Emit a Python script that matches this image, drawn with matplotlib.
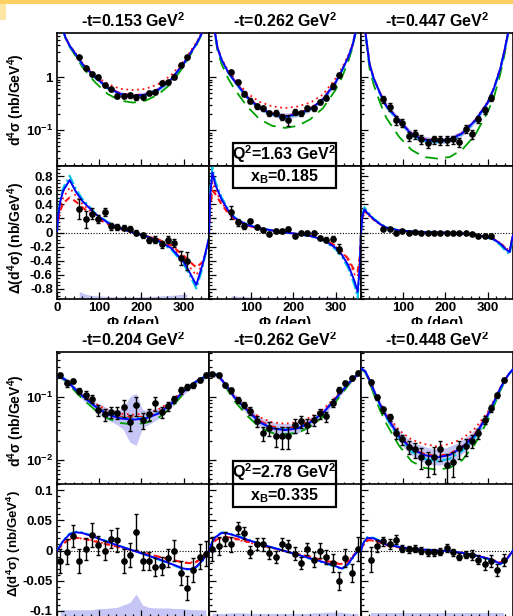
import numpy as np
import matplotlib
matplotlib.use('Agg')
import matplotlib.pyplot as plt
from matplotlib.ticker import MultipleLocator, LogLocator, NullFormatter, FuncFormatter
from matplotlib.patches import Rectangle
from matplotlib.lines import Line2D

plt.rcParams['font.family'] = ['Liberation Sans', 'DejaVu Sans']
plt.rcParams['font.weight'] = 'bold'
plt.rcParams['mathtext.fontset'] = 'custom'
plt.rcParams['mathtext.rm'] = 'Liberation Sans:bold'
plt.rcParams['mathtext.bf'] = 'Liberation Sans:bold'
plt.rcParams['mathtext.it'] = 'Liberation Sans:italic:bold'
plt.rcParams['mathtext.default'] = 'bf'

# ---------------- labels ----------------
titles_b1 = ['-t=0.153 GeV$^2$', '-t=0.262 GeV$^2$', '-t=0.447 GeV$^2$']
titles_b2 = ['-t=0.204 GeV$^2$', '-t=0.262 GeV$^2$', '-t=0.448 GeV$^2$']
box_b1 = ['Q$^2$=1.63 GeV$^2$', 'x$_B$=0.185']
box_b2 = ['Q$^2$=2.78 GeV$^2$', 'x$_B$=0.335']

# ---------------- model curve grids ----------------
GC = [0, 10, 20, 30, 45, 60, 90, 120, 150, 180, 210, 240, 270, 300, 315, 330, 340, 350, 360]
GD = [0, 3, 8, 15, 30, 45, 60, 90, 120, 150, 180, 210, 240, 270, 300, 315, 330, 345, 352, 357, 360]

# ---------------- data phi bins ----------------
PHI18 = [52.5, 67.5, 82.5, 97.5, 112.5, 127.5, 142.5, 157.5, 172.5, 187.5, 202.5,
         217.5, 232.5, 247.5, 262.5, 277.5, 292.5, 307.5]
PHI24 = [7.5, 22.5, 37.5, 52.5, 67.5, 82.5, 97.5, 112.5, 127.5, 142.5, 157.5, 172.5,
         187.5, 202.5, 217.5, 232.5, 247.5, 262.5, 277.5, 292.5, 307.5, 322.5, 337.5, 352.5]
PHI22 = [22.5, 37.5, 52.5, 67.5, 82.5, 97.5, 112.5, 127.5, 142.5, 157.5, 172.5,
         187.5, 202.5, 217.5, 232.5, 247.5, 262.5, 277.5, 292.5, 307.5, 322.5, 337.5]

# ===== Block 1 cross sections =====
b1p1_blue = [20, 10, 5.6, 3.9, 2.65, 1.75, 1.0, 0.63, 0.48, 0.44, 0.47, 0.58, 0.9, 1.8, 2.75, 4.2, 6.0, 9.5, 20]
b1p1_cyan = [20, 10, 5.5, 3.85, 2.6, 1.72, 0.98, 0.61, 0.47, 0.43, 0.46, 0.57, 0.88, 1.78, 2.72, 4.15, 6.0, 9.5, 20]
b1p1_rdot = [20, 10, 5.7, 4.0, 2.75, 1.85, 1.08, 0.74, 0.6, 0.57, 0.6, 0.74, 1.08, 2.0, 3.0, 4.5, 6.3, 9.8, 20]
b1p1_rdash = [20, 10, 5.6, 3.95, 2.7, 1.78, 1.02, 0.64, 0.49, 0.45, 0.48, 0.59, 0.92, 1.83, 2.8, 4.25, 6.1, 9.6, 20]
b1p1_green = [20, 10, 5.4, 3.7, 2.45, 1.55, 0.8, 0.48, 0.36, 0.33, 0.36, 0.47, 0.75, 1.6, 2.55, 4.0, 5.8, 9.3, 20]
b1p1_y = [2.35, 1.46, 1.14, 1.01, 0.70, 0.586, 0.438, 0.444, 0.457, 0.414, 0.425, 0.51, 0.53, 0.79, 0.80, 1.01, 1.68, 2.35]
b1p1_e = [0.2, 0.12, 0.09, 0.08, 0.06, 0.05, 0.04, 0.04, 0.045, 0.04, 0.04, 0.045, 0.045, 0.07, 0.06, 0.08, 0.14, 0.2]
b1p1_band = [0.1, 0.1, 0.1, 0.1, 0.1, 0.1, 0.1, 0.1, 0.1, 0.1, 0.1, 0.1, 0.1, 0.1, 0.1, 0.1, 0.1, 0.1]

b1p2_blue = [30, 11, 3.6, 2.1, 1.25, 0.85, 0.42, 0.26, 0.2, 0.18, 0.2, 0.25, 0.38, 0.8, 1.35, 2.4, 4.0, 9.0, 30]
b1p2_cyan = [30, 11, 3.5, 2.05, 1.22, 0.83, 0.41, 0.255, 0.195, 0.175, 0.195, 0.245, 0.37, 0.78, 1.32, 2.35, 3.9, 8.8, 30]
b1p2_rdot = [30, 11, 3.7, 2.2, 1.35, 0.95, 0.5, 0.34, 0.28, 0.26, 0.28, 0.33, 0.47, 0.95, 1.5, 2.6, 4.2, 9.2, 30]
b1p2_rdash = [30, 11, 3.6, 2.1, 1.27, 0.86, 0.43, 0.265, 0.205, 0.185, 0.205, 0.255, 0.39, 0.82, 1.37, 2.42, 4.0, 9.0, 30]
b1p2_green = [30, 10.5, 3.2, 1.75, 0.95, 0.6, 0.28, 0.16, 0.12, 0.11, 0.12, 0.16, 0.26, 0.58, 1.0, 2.0, 3.6, 8.5, 30]
b1p2_y = [1.26, 0.815, 0.49, 0.36, 0.28, 0.256, 0.207, 0.212, 0.18, 0.154, 0.22, 0.207, 0.256, 0.256, 0.34, 0.41, 0.676, 1.09]
b1p2_e = [0.12, 0.08, 0.05, 0.04, 0.035, 0.03, 0.025, 0.025, 0.025, 0.035, 0.03, 0.025, 0.03, 0.03, 0.035, 0.04, 0.07, 0.1]
b1p2_band = [0.12, 0.12, 0.12, 0.12, 0.12, 0.12, 0.12, 0.12, 0.14, 0.14, 0.12, 0.12, 0.12, 0.12, 0.12, 0.12, 0.12, 0.12]

b1p3_blue = [40, 7.5, 1.8, 0.95, 0.5, 0.28, 0.155, 0.082, 0.066, 0.062, 0.066, 0.087, 0.15, 0.33, 0.62, 1.45, 3.2, 8.0, 40]
b1p3_cyan = [40, 7.3, 1.75, 0.92, 0.48, 0.27, 0.15, 0.079, 0.063, 0.059, 0.063, 0.083, 0.145, 0.32, 0.6, 1.4, 3.1, 7.8, 40]
b1p3_rdot = [40, 7.6, 1.85, 0.97, 0.51, 0.29, 0.16, 0.085, 0.068, 0.064, 0.068, 0.089, 0.155, 0.34, 0.64, 1.48, 3.3, 8.1, 40]
b1p3_rdash = [40, 7.5, 1.8, 0.95, 0.5, 0.28, 0.155, 0.083, 0.066, 0.062, 0.066, 0.087, 0.15, 0.33, 0.62, 1.45, 3.2, 8.0, 40]
b1p3_green = [40, 6.8, 1.5, 0.72, 0.33, 0.17, 0.075, 0.042, 0.031, 0.029, 0.031, 0.043, 0.08, 0.22, 0.42, 1.15, 2.7, 7.5, 40]
b1p3_y = [0.385, 0.275, 0.154, 0.137, 0.077, 0.084, 0.067, 0.0576, 0.067, 0.065, 0.065, 0.067, 0.06, 0.107, 0.084, 0.16, 0.24, 0.407]
b1p3_e = [0.06, 0.05, 0.03, 0.025, 0.015, 0.015, 0.013, 0.011, 0.012, 0.012, 0.012, 0.012, 0.011, 0.02, 0.016, 0.025, 0.035, 0.06]
b1p3_band = [0.15, 0.15, 0.15, 0.15, 0.15, 0.15, 0.15, 0.15, 0.15, 0.15, 0.15, 0.15, 0.15, 0.15, 0.15, 0.15, 0.15, 0.15]

# ===== Block 1 differences =====
b1d1_blue = [0.02, 0.25, 0.45, 0.6, 0.75, 0.58, 0.45, 0.27, 0.14, 0.06, 0.0, -0.05, -0.12, -0.22, -0.42, -0.58, -0.75, -0.45, -0.28, -0.15, -0.08]
b1d1_cyan = [0.02, 0.27, 0.48, 0.64, 0.81, 0.62, 0.48, 0.28, 0.15, 0.065, 0.0, -0.055, -0.13, -0.24, -0.45, -0.62, -0.8, -0.5, -0.3, -0.17, -0.08]
b1d1_rdot = [0.02, 0.2, 0.38, 0.5, 0.64, 0.52, 0.41, 0.25, 0.13, 0.06, 0.0, -0.05, -0.1, -0.2, -0.38, -0.5, -0.61, -0.45, -0.3, -0.17, -0.08]
b1d1_rdash = [0.02, 0.17, 0.32, 0.42, 0.5, 0.44, 0.36, 0.22, 0.12, 0.05, 0.0, -0.05, -0.1, -0.18, -0.33, -0.42, -0.5, -0.42, -0.3, -0.17, -0.08]
b1d1_y = [0.34, 0.19, 0.27, 0.19, 0.29, 0.09, 0.08, 0.066, 0.057, -0.006, -0.04, -0.11, -0.10, -0.17, -0.10, -0.15, -0.37, -0.41]
b1d1_e = [0.14, 0.12, 0.08, 0.06, 0.06, 0.05, 0.04, 0.035, 0.035, 0.035, 0.035, 0.04, 0.045, 0.05, 0.045, 0.06, 0.1, 0.13]
b1d1_sys = [0.11, 0.07, 0.05, 0.045, 0.04, 0.035, 0.03, 0.03, 0.03, 0.03, 0.035, 0.035, 0.04, 0.045, 0.05, 0.055, 0.065, 0.075]

b1d2_blue = [0.0, 0.55, 0.86, 0.68, 0.47, 0.32, 0.21, 0.11, 0.06, 0.03, 0.0, -0.02, -0.05, -0.1, -0.22, -0.32, -0.47, -0.7, -0.85, -0.5, 0.0]
b1d2_cyan = [0.0, 0.6, 0.93, 0.73, 0.5, 0.34, 0.22, 0.115, 0.062, 0.031, 0.0, -0.022, -0.055, -0.11, -0.24, -0.35, -0.51, -0.76, -0.93, -0.55, 0.0]
b1d2_rdot = [0.0, 0.45, 0.72, 0.6, 0.43, 0.3, 0.2, 0.1, 0.055, 0.028, 0.0, -0.02, -0.05, -0.1, -0.2, -0.28, -0.4, -0.6, -0.63, -0.4, 0.0]
b1d2_rdash = [0.0, 0.38, 0.6, 0.55, 0.4, 0.28, 0.19, 0.1, 0.055, 0.028, 0.0, -0.02, -0.05, -0.09, -0.19, -0.27, -0.38, -0.55, -0.56, -0.35, 0.0]
b1d2_y = [0.29, 0.15, 0.09, 0.16, 0.08, 0.033, -0.015, 0.023, 0.02, 0.057, -0.043, 0.0, 0.0, 0.0, -0.077, -0.1, -0.09, -0.23]
b1d2_e = [0.09, 0.05, 0.04, 0.03, 0.03, 0.025, 0.025, 0.025, 0.025, 0.025, 0.025, 0.025, 0.025, 0.025, 0.03, 0.03, 0.035, 0.06]
b1d2_sys = [0.05, 0.04, 0.035, 0.03, 0.03, 0.03, 0.025, 0.025, 0.025, 0.025, 0.025, 0.025, 0.025, 0.025, 0.03, 0.03, 0.03, 0.035]

b1d3_blue = [0.0, 0.22, 0.33, 0.28, 0.19, 0.12, 0.07, 0.03, 0.015, 0.005, 0.0, -0.005, -0.015, -0.03, -0.07, -0.1, -0.16, -0.25, -0.28, -0.12, -0.04]
b1d3_cyan = [0.0, 0.24, 0.36, 0.3, 0.2, 0.13, 0.075, 0.032, 0.016, 0.005, 0.0, -0.005, -0.016, -0.033, -0.075, -0.11, -0.18, -0.28, -0.31, -0.14, -0.04]
b1d3_rdot = [0.0, 0.2, 0.3, 0.26, 0.18, 0.115, 0.068, 0.03, 0.015, 0.005, 0.0, -0.005, -0.015, -0.03, -0.068, -0.095, -0.15, -0.23, -0.26, -0.11, -0.04]
b1d3_rdash = [0.0, 0.21, 0.31, 0.27, 0.185, 0.118, 0.069, 0.03, 0.015, 0.005, 0.0, -0.005, -0.015, -0.03, -0.069, -0.097, -0.155, -0.24, -0.27, -0.115, -0.04]
b1d3_y = [0.057, 0.057, 0.0, 0.02, 0.0, 0.01, -0.005, -0.005, -0.005, -0.005, -0.005, -0.005, -0.014, 0.0, -0.02, -0.05, -0.057, -0.05]
b1d3_e = [0.015, 0.012, 0.01, 0.01, 0.01, 0.01, 0.01, 0.01, 0.01, 0.01, 0.01, 0.01, 0.01, 0.01, 0.01, 0.012, 0.012, 0.015]
b1d3_sys = [0.015, 0.015, 0.015, 0.015, 0.015, 0.015, 0.015, 0.015, 0.015, 0.015, 0.015, 0.015, 0.015, 0.015, 0.015, 0.015, 0.015, 0.015]

# ===== Block 2 cross sections =====
b2p1_blue = [0.215, 0.21, 0.19, 0.165, 0.13, 0.105, 0.072, 0.053, 0.046, 0.044, 0.046, 0.055, 0.078, 0.125, 0.15, 0.18, 0.197, 0.21, 0.215]
b2p1_cyan = [0.218, 0.213, 0.193, 0.167, 0.131, 0.105, 0.073, 0.054, 0.047, 0.046, 0.047, 0.056, 0.079, 0.127, 0.152, 0.182, 0.2, 0.213, 0.218]
b2p1_rdot = [0.215, 0.21, 0.19, 0.166, 0.133, 0.11, 0.08, 0.062, 0.055, 0.053, 0.055, 0.064, 0.086, 0.132, 0.155, 0.182, 0.198, 0.21, 0.215]
b2p1_rdash = [0.215, 0.21, 0.19, 0.165, 0.131, 0.106, 0.074, 0.055, 0.049, 0.048, 0.049, 0.057, 0.08, 0.127, 0.151, 0.18, 0.197, 0.21, 0.215]
b2p1_green = [0.21, 0.205, 0.183, 0.157, 0.12, 0.095, 0.063, 0.046, 0.039, 0.037, 0.039, 0.047, 0.068, 0.115, 0.142, 0.173, 0.192, 0.205, 0.21]
b2p1_y = [0.227, 0.167, 0.182, 0.126, 0.109, 0.095, 0.063, 0.054, 0.059, 0.057, 0.069, 0.041, 0.075, 0.0435, 0.054, 0.08, 0.059, 0.073, 0.094, 0.13, 0.148, 0.157, 0.19, 0.23]
b2p1_e = [0.015, 0.02, 0.015, 0.015, 0.015, 0.015, 0.012, 0.012, 0.012, 0.012, 0.02, 0.012, 0.025, 0.012, 0.012, 0.02, 0.012, 0.012, 0.012, 0.015, 0.015, 0.015, 0.015, 0.015]
b2p1_band = [0.08, 0.1, 0.1, 0.12, 0.15, 0.15, 0.2, 0.25, 0.25, 0.3, 0.5, 1.3, 1.6, 0.4, 0.3, 0.25, 0.2, 0.18, 0.15, 0.12, 0.12, 0.1, 0.1, 0.08]

b2p2_blue = [0.22, 0.24, 0.225, 0.19, 0.14, 0.1, 0.063, 0.04, 0.032, 0.030, 0.032, 0.04, 0.056, 0.095, 0.125, 0.165, 0.195, 0.225, 0.245]
b2p2_cyan = [0.225, 0.245, 0.228, 0.192, 0.14, 0.1, 0.062, 0.04, 0.032, 0.031, 0.032, 0.04, 0.056, 0.096, 0.127, 0.168, 0.198, 0.228, 0.25]
b2p2_rdot = [0.22, 0.24, 0.225, 0.192, 0.145, 0.107, 0.07, 0.048, 0.04, 0.038, 0.04, 0.048, 0.064, 0.102, 0.13, 0.168, 0.197, 0.226, 0.245]
b2p2_rdash = [0.22, 0.24, 0.225, 0.19, 0.141, 0.101, 0.064, 0.042, 0.034, 0.032, 0.034, 0.042, 0.058, 0.097, 0.127, 0.166, 0.196, 0.225, 0.245]
b2p2_green = [0.215, 0.235, 0.218, 0.18, 0.128, 0.088, 0.051, 0.033, 0.027, 0.026, 0.027, 0.034, 0.049, 0.085, 0.115, 0.157, 0.19, 0.22, 0.24]
b2p2_y = [0.235, 0.227, 0.16, 0.131, 0.09, 0.075, 0.061, 0.042, 0.027, 0.032, 0.0241, 0.0241, 0.0241, 0.036, 0.042, 0.036, 0.0435, 0.0555, 0.05, 0.082, 0.131, 0.17, 0.205, 0.247]
b2p2_e = [0.02, 0.015, 0.012, 0.012, 0.01, 0.008, 0.008, 0.008, 0.007, 0.008, 0.008, 0.009, 0.009, 0.009, 0.009, 0.009, 0.009, 0.01, 0.009, 0.012, 0.014, 0.015, 0.015, 0.015]
b2p2_band = [0.08, 0.1, 0.1, 0.12, 0.15, 0.15, 0.18, 0.2, 0.22, 0.25, 0.25, 0.25, 0.25, 0.22, 0.2, 0.2, 0.18, 0.15, 0.15, 0.12, 0.1, 0.1, 0.08, 0.08]

b2p3_blue = [0.29, 0.26, 0.19, 0.13, 0.077, 0.05, 0.024, 0.015, 0.012, 0.011, 0.012, 0.016, 0.025, 0.052, 0.085, 0.14, 0.185, 0.235, 0.28]
b2p3_cyan = [0.29, 0.26, 0.19, 0.128, 0.074, 0.047, 0.022, 0.0135, 0.0105, 0.0095, 0.0105, 0.014, 0.023, 0.049, 0.082, 0.137, 0.183, 0.233, 0.28]
b2p3_rdot = [0.29, 0.26, 0.19, 0.132, 0.08, 0.055, 0.03, 0.021, 0.018, 0.0165, 0.018, 0.022, 0.032, 0.058, 0.09, 0.143, 0.187, 0.236, 0.28]
b2p3_rdash = [0.29, 0.26, 0.19, 0.13, 0.077, 0.05, 0.0245, 0.0155, 0.0125, 0.0115, 0.0125, 0.0165, 0.026, 0.053, 0.086, 0.14, 0.185, 0.235, 0.28]
b2p3_green = [0.28, 0.25, 0.175, 0.113, 0.062, 0.038, 0.017, 0.0095, 0.0075, 0.007, 0.0075, 0.01, 0.018, 0.042, 0.073, 0.128, 0.177, 0.23, 0.275]
b2p3_y = [0.173, 0.1, 0.064, 0.048, 0.0266, 0.0214, 0.0163, 0.0148, 0.0113, 0.0094, 0.011, 0.0148, 0.0083, 0.0094, 0.0154, 0.0167, 0.0203, 0.0266, 0.0435, 0.0667, 0.109, 0.189]
b2p3_e = [0.015, 0.01, 0.007, 0.006, 0.005, 0.004, 0.004, 0.004, 0.004, 0.004, 0.005, 0.005, 0.004, 0.004, 0.005, 0.005, 0.005, 0.005, 0.006, 0.008, 0.01, 0.015]
b2p3_band = [0.1, 0.12, 0.15, 0.18, 0.2, 0.25, 0.3, 0.3, 0.35, 0.35, 0.35, 0.35, 0.35, 0.35, 0.3, 0.3, 0.25, 0.2, 0.18, 0.15, 0.12, 0.1]

# ===== Block 2 differences =====
b2d1_blue = [0.0, 0.003, 0.008, 0.016, 0.027, 0.03, 0.029, 0.022, 0.014, 0.007, 0.0, -0.007, -0.014, -0.022, -0.03, -0.031, -0.027, -0.016, -0.009, -0.004, 0.0]
b2d1_cyan = [0.0, 0.003, 0.009, 0.017, 0.028, 0.031, 0.03, 0.023, 0.015, 0.007, 0.0, -0.007, -0.015, -0.023, -0.031, -0.032, -0.028, -0.017, -0.01, -0.004, 0.0]
b2d1_rdot = [0.0, 0.002, 0.006, 0.011, 0.018, 0.02, 0.02, 0.016, 0.01, 0.005, 0.0, -0.005, -0.01, -0.016, -0.02, -0.02, -0.018, -0.011, -0.006, -0.003, 0.0]
b2d1_rdash = [0.0, 0.002, 0.006, 0.012, 0.019, 0.021, 0.02, 0.015, 0.01, 0.005, 0.0, -0.005, -0.01, -0.015, -0.02, -0.021, -0.019, -0.012, -0.006, -0.003, 0.0]
b2d1_y = [-0.0167, -0.0017, 0.024, -0.0167, 0.003, 0.026, 0.0083, 0.0, 0.0195, 0.018, -0.018, -0.008, 0.031, -0.0167, -0.0167, -0.027, -0.025, -0.0127, 0.0, -0.037, -0.062, -0.032, -0.01, -0.005]
b2d1_e = [0.02, 0.02, 0.018, 0.02, 0.018, 0.02, 0.015, 0.015, 0.015, 0.02, 0.02, 0.02, 0.03, 0.015, 0.015, 0.015, 0.015, 0.015, 0.018, 0.02, 0.02, 0.02, 0.02, 0.02]
b2d1_sys = [0.012, 0.012, 0.012, 0.012, 0.012, 0.012, 0.014, 0.014, 0.015, 0.016, 0.02, 0.024, 0.038, 0.02, 0.016, 0.015, 0.015, 0.015, 0.014, 0.014, 0.013, 0.012, 0.012, 0.012]

b2d2_blue = [0.0, 0.006, 0.014, 0.022, 0.029, 0.028, 0.025, 0.018, 0.011, 0.005, -0.001, -0.007, -0.013, -0.019, -0.026, -0.03, -0.022, -0.007, -0.001, 0.0, 0.0]
b2d2_cyan = [0.0, 0.006, 0.015, 0.023, 0.03, 0.029, 0.026, 0.019, 0.011, 0.005, -0.001, -0.007, -0.014, -0.02, -0.027, -0.031, -0.023, -0.008, -0.001, 0.0, 0.0]
b2d2_rdot = [0.0, 0.004, 0.01, 0.016, 0.021, 0.021, 0.019, 0.014, 0.009, 0.004, -0.001, -0.006, -0.01, -0.015, -0.02, -0.022, -0.017, -0.006, -0.001, 0.0, 0.0]
b2d2_rdash = [0.0, 0.004, 0.011, 0.017, 0.022, 0.022, 0.02, 0.015, 0.009, 0.004, -0.001, -0.006, -0.011, -0.016, -0.021, -0.023, -0.018, -0.006, -0.001, 0.0, 0.0]
b2d2_y = [0.003, 0.007, 0.019, 0.01, 0.037, 0.029, -0.003, 0.011, 0.01, -0.004, -0.01, 0.011, 0.008, -0.005, -0.021, 0.003, -0.015, 0.0, -0.011, -0.02, -0.05, -0.012, -0.037, 0.002]
b2d2_e = [0.02, 0.015, 0.012, 0.012, 0.01, 0.01, 0.01, 0.01, 0.01, 0.01, 0.01, 0.01, 0.01, 0.01, 0.01, 0.01, 0.012, 0.012, 0.012, 0.015, 0.015, 0.015, 0.015, 0.02]
b2d2_sys = [0.006, 0.006, 0.006, 0.007, 0.007, 0.007, 0.006, 0.006, 0.006, 0.006, 0.006, 0.006, 0.006, 0.006, 0.006, 0.006, 0.007, 0.007, 0.008, 0.008, 0.008, 0.007, 0.006, 0.006]

b2d3_blue = [0.0, 0.008, 0.015, 0.021, 0.02, 0.015, 0.01, 0.006, 0.003, 0.0015, 0.0, -0.001, -0.004, -0.008, -0.013, -0.017, -0.022, -0.015, -0.008, -0.003, 0.0]
b2d3_cyan = [0.0, 0.008, 0.016, 0.022, 0.021, 0.016, 0.011, 0.006, 0.003, 0.0015, 0.0, -0.001, -0.004, -0.008, -0.014, -0.018, -0.023, -0.016, -0.008, -0.003, 0.0]
b2d3_rdot = [0.0, 0.006, 0.011, 0.016, 0.016, 0.013, 0.009, 0.005, 0.003, 0.001, 0.0, -0.001, -0.004, -0.008, -0.013, -0.016, -0.02, -0.014, -0.007, -0.003, 0.0]
b2d3_rdash = [0.0, 0.006, 0.012, 0.017, 0.017, 0.013, 0.009, 0.005, 0.003, 0.001, 0.0, -0.001, -0.004, -0.008, -0.013, -0.017, -0.02, -0.014, -0.007, -0.003, 0.0]
b2d3_y = [-0.015, 0.007, 0.015, 0.011, 0.018, 0.003, 0.002, 0.003, 0.0, -0.003, -0.003, -0.002, 0.004, -0.003, -0.01, -0.007, -0.007, -0.015, -0.023, -0.018, -0.033, -0.015]
b2d3_e = [0.02, 0.01, 0.008, 0.008, 0.008, 0.006, 0.006, 0.006, 0.006, 0.006, 0.006, 0.006, 0.006, 0.006, 0.006, 0.006, 0.008, 0.008, 0.01, 0.01, 0.01, 0.01]
b2d3_sys = [0.006, 0.006, 0.006, 0.006, 0.006, 0.006, 0.006, 0.006, 0.006, 0.006, 0.006, 0.006, 0.006, 0.006, 0.006, 0.006, 0.006, 0.006, 0.006, 0.006, 0.006, 0.006]

# ---------------- styling ----------------
BLUE = '#0000ff'
CYAN = '#00c4e4'
RED = '#ff1010'
GREEN = '#00a000'
BAND = '#c6c6f6'

W, H = 513, 616
fig = plt.figure(figsize=(W / 100, H / 100), dpi=100)
fig.patch.set_facecolor('white')


def add_ax(x0, y0, w, h):
    return fig.add_axes([x0 / W, 1 - (y0 + h) / H, w / W, h / H])


COLX = [57, 209, 361]
COLW = 152
ROWH = 133


def style(ax, col, xlabels=False):
    ax.set_xlim(0, 360)
    ax.xaxis.set_major_locator(MultipleLocator(100))
    ax.xaxis.set_minor_locator(MultipleLocator(20))
    ax.tick_params(which='both', direction='in', top=False, right=False, width=0.9,
                   labelsize=9.5, pad=3)
    ax.tick_params(axis='x', pad=2)
    ax.tick_params(which='major', length=5)
    ax.tick_params(which='minor', length=2.5)
    for s in ax.spines.values():
        s.set_linewidth(1.2)
    if xlabels:
        if col == 0:
            ax.xaxis.set_major_formatter(FuncFormatter(lambda v, p: '%d' % v))
        else:
            ax.xaxis.set_major_formatter(FuncFormatter(lambda v, p: '' if v == 0 else '%d' % v))
    else:
        ax.tick_params(labelbottom=False)
    if col > 0:
        ax.tick_params(labelleft=False)
    for lab in ax.get_xticklabels() + ax.get_yticklabels():
        lab.set_fontweight('bold')


def logfmt(v, p):
    e = int(round(np.log10(v)))
    if e == 0:
        return '1'
    return '10$^{%d}$' % e


def draw_cs(ax, col, blue, cyan, rdot, rdash, green, phid, yd, ed, bandf, ylim):
    ax.set_yscale('log')
    ax.set_ylim(*ylim)
    b = 10 ** np.interp(phid, GC, np.log10(blue))
    f = np.array(bandf)
    ax.fill_between(phid, b / (1 + f), b * (1 + f), color=BAND, lw=0, zorder=1)
    ax.plot(GC, green, color=GREEN, lw=1.3, dashes=(7, 4), zorder=2)
    ax.plot(GC, rdot, color=RED, lw=1.3, dashes=(1, 2), zorder=3)
    ax.plot(GC, rdash, color=RED, lw=1.5, dashes=(3, 2), zorder=3)
    ax.plot(GC, cyan, color=CYAN, lw=1.5, dashes=(5, 1.5, 1, 1.5), zorder=4)
    ax.plot(GC, blue, color=BLUE, lw=1.4, zorder=5)
    ax.errorbar(phid, yd, yerr=ed, fmt='o', color='k', ms=3.8, capsize=1.2,
                elinewidth=1, capthick=1, zorder=6)
    ax.yaxis.set_major_locator(LogLocator(base=10, numticks=10))
    ax.yaxis.set_minor_locator(LogLocator(base=10, subs=np.arange(2, 10), numticks=10))
    ax.yaxis.set_major_formatter(FuncFormatter(logfmt))
    ax.yaxis.set_minor_formatter(NullFormatter())
    style(ax, col)


def draw_diff(ax, col, blue, cyan, rdot, rdash, phid, yd, ed, sysh, ylim, major, minor, xlabels):
    ax.set_ylim(*ylim)
    ax.fill_between(phid, ylim[0], ylim[0] + np.array(sysh), color=BAND, lw=0, zorder=1)
    ax.axhline(0, color='k', lw=0.8, ls=(0, (1, 1.5)), zorder=1.5)
    ax.plot(GD, rdot, color=RED, lw=1.3, dashes=(1, 2), zorder=3)
    ax.plot(GD, rdash, color=RED, lw=1.5, dashes=(3, 2), zorder=3)
    ax.plot(GD, cyan, color=CYAN, lw=1.5, dashes=(5, 1.5, 1, 1.5), zorder=4)
    ax.plot(GD, blue, color=BLUE, lw=1.4, zorder=5)
    ax.errorbar(phid, yd, yerr=ed, fmt='o', color='k', ms=3.8, capsize=1.2,
                elinewidth=1, capthick=1, zorder=6)
    ax.yaxis.set_major_locator(MultipleLocator(major))
    ax.yaxis.set_minor_locator(MultipleLocator(minor))
    ax.yaxis.set_major_formatter(FuncFormatter(lambda v, p: '0' if abs(v) < 1e-9 else '%g' % round(v, 3)))
    style(ax, col, xlabels)


b1_cs = [
    (b1p1_blue, b1p1_cyan, b1p1_rdot, b1p1_rdash, b1p1_green, PHI18, b1p1_y, b1p1_e, b1p1_band),
    (b1p2_blue, b1p2_cyan, b1p2_rdot, b1p2_rdash, b1p2_green, PHI18, b1p2_y, b1p2_e, b1p2_band),
    (b1p3_blue, b1p3_cyan, b1p3_rdot, b1p3_rdash, b1p3_green, PHI18, b1p3_y, b1p3_e, b1p3_band),
]
b1_d = [
    (b1d1_blue, b1d1_cyan, b1d1_rdot, b1d1_rdash, PHI18, b1d1_y, b1d1_e, b1d1_sys),
    (b1d2_blue, b1d2_cyan, b1d2_rdot, b1d2_rdash, PHI18, b1d2_y, b1d2_e, b1d2_sys),
    (b1d3_blue, b1d3_cyan, b1d3_rdot, b1d3_rdash, PHI18, b1d3_y, b1d3_e, b1d3_sys),
]
b2_cs = [
    (b2p1_blue, b2p1_cyan, b2p1_rdot, b2p1_rdash, b2p1_green, PHI24, b2p1_y, b2p1_e, b2p1_band),
    (b2p2_blue, b2p2_cyan, b2p2_rdot, b2p2_rdash, b2p2_green, PHI24, b2p2_y, b2p2_e, b2p2_band),
    (b2p3_blue, b2p3_cyan, b2p3_rdot, b2p3_rdash, b2p3_green, PHI22, b2p3_y, b2p3_e, b2p3_band),
]
b2_d = [
    (b2d1_blue, b2d1_cyan, b2d1_rdot, b2d1_rdash, PHI24, b2d1_y, b2d1_e, b2d1_sys),
    (b2d2_blue, b2d2_cyan, b2d2_rdot, b2d2_rdash, PHI24, b2d2_y, b2d2_e, b2d2_sys),
    (b2d3_blue, b2d3_cyan, b2d3_rdot, b2d3_rdash, PHI22, b2d3_y, b2d3_e, b2d3_sys),
]

for c in range(3):
    ax = add_ax(COLX[c], 33, COLW, ROWH)
    draw_cs(ax, c, *b1_cs[c], ylim=(0.021, 6.8))
    ax = add_ax(COLX[c], 166, COLW, ROWH)
    draw_diff(ax, c, *b1_d[c], ylim=(-0.95, 0.95), major=0.2, minor=0.05, xlabels=True)
    ax = add_ax(COLX[c], 352, COLW, ROWH)
    draw_cs(ax, c, *b2_cs[c], ylim=(0.004, 0.528))
    ax = add_ax(COLX[c], 484, COLW, ROWH)
    draw_diff(ax, c, *b2_d[c], ylim=(-0.11, 0.11), major=0.05, minor=0.01, xlabels=False)

# titles and x labels
for c in range(3):
    xc = (COLX[c] + COLW / 2) / W
    fig.text(xc, 1 - 27 / H, titles_b1[c], ha='center', va='baseline', fontsize=11.5, fontweight='bold')
    fig.text(xc, 1 - 346 / H, titles_b2[c], ha='center', va='baseline', fontsize=11.5, fontweight='bold')
    fig.text(xc, 1 - 316 / H, 'Φ (deg)', ha='center', va='top', fontsize=10.5, fontweight='bold')

# white mask cutting x-labels of block 1 (as in the reference)
fig.add_artist(Rectangle((0, 1 - 332 / H), 1, 8 / H, transform=fig.transFigure,
                         facecolor='white', edgecolor='none', zorder=8))

# y labels
fig.text(16 / W, 1 - 100 / H, 'd$^4$σ (nb/GeV$^4$)', rotation=90, ha='center', va='center', fontsize=10, fontweight='bold')
fig.text(16 / W, 1 - 238 / H, 'Δ(d$^4$σ) (nb/GeV$^4$)', rotation=90, ha='center', va='center', fontsize=10, fontweight='bold')
fig.text(16 / W, 1 - 421 / H, 'd$^4$σ (nb/GeV$^4$)', rotation=90, ha='center', va='center', fontsize=10, fontweight='bold')
fig.text(14 / W, 1 - 544 / H, 'Δ(d$^4$σ) (nb/GeV$^4$)', rotation=90, ha='center', va='center', fontsize=9.5, fontweight='bold')

# kinematics boxes
for (ytop, ymid, ybot, labs) in [(143, 166, 188, box_b1), (461, 484, 507, box_b2)]:
    x0, x1 = 233, 336
    fig.add_artist(Rectangle((x0 / W, 1 - ybot / H), (x1 - x0) / W, (ybot - ytop) / H,
                             transform=fig.transFigure, facecolor='white', edgecolor='black',
                             lw=1.6, zorder=9))
    fig.add_artist(Line2D([x0 / W, x1 / W], [1 - ymid / H, 1 - ymid / H], transform=fig.transFigure,
                          color='black', lw=1.6, zorder=10))
    xc = (x0 + x1) / 2 / W
    fig.text(xc, 1 - (ytop + ymid) / 2 / H, labs[0], ha='center', va='center', fontsize=11.5,
             fontweight='bold', zorder=11)
    fig.text(xc, 1 - (ymid + ybot) / 2 / H, labs[1], ha='center', va='center', fontsize=11.5,
             fontweight='bold', zorder=11)

# slide decoration strip
fig.add_artist(Rectangle((0, 1 - 4 / H), 1, 4 / H, transform=fig.transFigure,
                         facecolor='#fbd060', edgecolor='none', zorder=12))
fig.add_artist(Rectangle((0, 1 - 20 / H), 6 / W, 16 / H, transform=fig.transFigure,
                         facecolor='#fde6a6', edgecolor='none', zorder=12))

fig.savefig('out.png', dpi=100)
